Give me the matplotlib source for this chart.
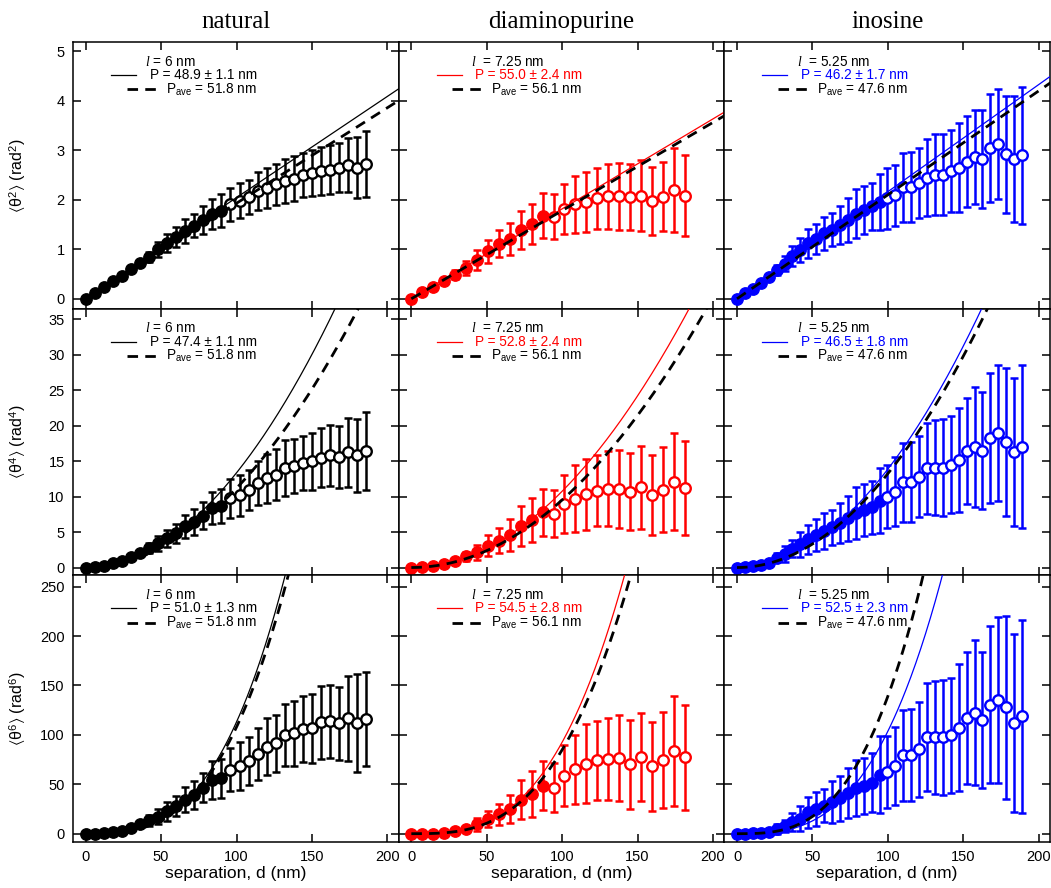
import numpy as np
import matplotlib
matplotlib.use("Agg")
import matplotlib.pyplot as plt

plt.rcParams['font.family'] = ['Liberation Sans', 'DejaVu Sans']
plt.rcParams['mathtext.fontset'] = 'custom'
plt.rcParams['mathtext.rm'] = 'Liberation Sans'
plt.rcParams['mathtext.it'] = 'Liberation Serif:italic'
plt.rcParams['mathtext.bf'] = 'Liberation Sans:bold'
plt.rcParams['mathtext.fallback'] = 'stixsans'

# ---------------- data ----------------
samples = ["natural", "diaminopurine", "inosine"]
colors = ["black", "red", "blue"]
seg_len = [6.0, 7.25, 5.25]            # l (nm), spacing of points
n_points = [32, 26, 37]
n_filled = [16, 13, 19]                # filled markers, rest open
P_ave = [51.8, 56.1, 47.6]

# fitted P (rows: <theta^2>, <theta^4>, <theta^6>)
P_fit = [[48.9, 55.0, 46.2],
         [47.4, 52.8, 46.5],
         [51.0, 54.5, 52.5]]
P_err = [[1.1, 2.4, 1.7],
         [1.1, 2.4, 1.8],
         [1.3, 2.8, 2.3]]

moment_factor = [1, 3, 15]
moment_power = [1, 2, 3]

# natural
nat_t2 = [0, 0.12, 0.24, 0.35, 0.47, 0.61, 0.73, 0.85, 1.0, 1.12, 1.25, 1.37, 1.48, 1.59, 1.72, 1.78,
          1.91, 1.98, 2.06, 2.18, 2.24, 2.31, 2.38, 2.43, 2.50, 2.54, 2.58, 2.61, 2.65, 2.70, 2.65, 2.72]
nat_t2_err = [0, 0.01, 0.02, 0.03, 0.04, 0.05, 0.06, 0.1, 0.15, 0.18, 0.2, 0.24, 0.24, 0.28, 0.3, 0.33,
              0.33, 0.35, 0.35, 0.38, 0.4, 0.42, 0.45, 0.45, 0.44, 0.46, 0.48, 0.49, 0.5, 0.54, 0.62, 0.67]
nat_t4 = [0, 0.1, 0.24, 0.57, 0.94, 1.55, 2.1, 2.7, 3.4, 4.1, 4.85, 5.8, 6.45, 7.3, 8.4, 8.7,
          9.75, 10.2, 10.9, 11.9, 12.6, 13.1, 14.0, 14.3, 14.8, 15.0, 15.5, 15.8, 15.6, 16.25, 15.8, 16.4]
nat_t4_err = [0, 0.02, 0.05, 0.1, 0.15, 0.25, 0.4, 0.7, 1.05, 1.2, 1.35, 1.65, 1.85, 1.9, 2.3, 2.4,
              2.7, 2.9, 2.85, 3.1, 3.45, 3.6, 3.95, 3.8, 3.8, 4.0, 4.2, 4.3, 4.4, 4.85, 5.2, 5.5]
nat_t6 = [0, 0.2, 0.6, 1.5, 2.7, 5.7, 9.4, 13.4, 17, 22.5, 28, 34.4, 39, 46.6, 54.4, 56,
          64.8, 68.5, 73.2, 80.6, 88, 91.4, 99.8, 101.8, 106, 106.5, 112.7, 113.7, 111.6, 116.7, 111.6, 116]
nat_t6_err = [0, 0.05, 0.1, 0.3, 0.6, 1.2, 2.5, 6, 7.5, 9.2, 10.4, 12.9, 14, 14.6, 19, 20,
              21.8, 23.9, 24.4, 26.5, 29, 29, 31.4, 33, 33.6, 35.3, 37, 36.6, 37.1, 43.2, 49.6, 47.9]

# diaminopurine
dap_t2 = [0, 0.13, 0.24, 0.36, 0.49, 0.63, 0.79, 0.96, 1.11, 1.21, 1.39, 1.51, 1.68,
          1.66, 1.81, 1.91, 1.95, 2.03, 2.07, 2.07, 2.05, 2.08, 1.98, 2.06, 2.19, 2.08]
dap_t2_err = [0, 0.02, 0.03, 0.04, 0.1, 0.14, 0.2, 0.23, 0.27, 0.33, 0.39, 0.4, 0.45,
              0.46, 0.5, 0.58, 0.61, 0.62, 0.65, 0.67, 0.67, 0.72, 0.69, 0.7, 0.85, 0.82]
dap_t4 = [0, 0.05, 0.24, 0.52, 0.94, 1.56, 2.17, 3.1, 3.8, 4.6, 5.9, 6.75, 7.8,
          7.6, 9.0, 9.7, 10.3, 10.85, 11.1, 11.1, 10.7, 11.3, 10.2, 11.0, 12.1, 11.2]
dap_t4_err = [0, 0.02, 0.05, 0.1, 0.2, 0.7, 1.05, 1.5, 1.8, 2.2, 2.8, 3.1, 3.3,
              3.3, 4.1, 4.7, 5.0, 5.0, 5.3, 5.5, 5.4, 5.8, 5.6, 6.0, 6.8, 6.6]
dap_t6 = [0, 0, 0.2, 1, 2.4, 5, 9.4, 14.8, 19.5, 25, 34.4, 40, 48.5,
          46.5, 58.6, 65, 70.8, 74.1, 75.8, 76.5, 70.1, 77.5, 68.1, 74.8, 83.6, 77.2]
dap_t6_err = [0, 0, 0.1, 0.3, 0.5, 2, 6.4, 8, 11, 14, 20, 23, 25,
              25, 31, 35.4, 40, 40.4, 41.4, 43.4, 44.7, 44.2, 44.7, 48.5, 55.7, 53.3]

# inosine
ino_t2 = [0, 0.11, 0.2, 0.32, 0.45, 0.58, 0.71, 0.86, 0.98, 1.12, 1.21, 1.32, 1.40, 1.49, 1.59, 1.72,
          1.79, 1.87, 1.95, 2.03, 2.09, 2.25, 2.26, 2.34, 2.45, 2.51, 2.51, 2.59, 2.65, 2.77, 2.86,
          2.82, 3.04, 3.12, 2.92, 2.82, 2.90]
ino_t2_err = [0, 0.01, 0.02, 0.04, 0.06, 0.1, 0.15, 0.2, 0.24, 0.3, 0.31, 0.34, 0.34, 0.39, 0.44, 0.49,
              0.49, 0.48, 0.57, 0.62, 0.61, 0.7, 0.71, 0.71, 0.77, 0.82, 0.82, 0.83, 0.9, 0.92, 0.95,
              0.99, 1.09, 1.11, 1.18, 1.27, 1.38]
ino_t4 = [0, 0.1, 0.24, 0.38, 0.7, 1.41, 1.88, 2.68, 3.25, 4.0, 4.57, 5.18, 5.65, 6.27, 6.93, 7.73,
          8.15, 8.47, 9.42, 9.99, 10.69, 12.0, 12.07, 12.8, 13.99, 14.1, 14.1, 14.5, 15.2, 16.4, 17.05,
          16.5, 18.3, 19.0, 17.7, 16.3, 17.05]
ino_t4_err = [0, 0.02, 0.05, 0.1, 0.2, 0.66, 1.1, 1.15, 1.7, 2.05, 2.3, 2.55, 2.47, 2.82, 3.18, 3.65,
              3.65, 3.77, 4.6, 4.4, 4.87, 5.58, 5.67, 5.7, 6.43, 6.73, 6.85, 6.87, 7.3, 7.46, 8.45,
              8.2, 9.18, 9.6, 10.4, 10.4, 11.5]
ino_t6 = [0, 0, 0.5, 1, 1.5, 4.5, 8, 11.5, 15, 21.5, 25, 28.4, 32.3, 35.7, 41.3, 46.4,
          48.4, 51.4, 59.9, 62.5, 68.2, 79.3, 79.3, 85.4, 97.5, 97.5, 97.5, 99.5, 107.3, 117, 122.3,
          115, 130.7, 135.5, 128, 111.9, 119]
ino_t6_err = [0, 0, 0.1, 0.3, 1, 5, 6, 9, 12.6, 15.6, 17.3, 17, 21, 22.5, 25.2, 28.7,
              28.6, 29.9, 38.5, 36.5, 39.5, 45.7, 46.5, 48.2, 54.6, 57.1, 58.3, 58.1, 64.2, 66.4, 73.4,
              68.9, 79.1, 84, 92.6, 90.2, 97.6]

values = [[nat_t2, dap_t2, ino_t2],
          [nat_t4, dap_t4, ino_t4],
          [nat_t6, dap_t6, ino_t6]]
errors = [[nat_t2_err, dap_t2_err, ino_t2_err],
          [nat_t4_err, dap_t4_err, ino_t4_err],
          [nat_t6_err, dap_t6_err, ino_t6_err]]

ylabels = [r'$\langle\mathrm{θ}^{2}\rangle$ (rad$^{2}$)',
           r'$\langle\mathrm{θ}^{4}\rangle$ (rad$^{4}$)',
           r'$\langle\mathrm{θ}^{6}\rangle$ (rad$^{6}$)']
ylims = [(-0.2, 5.19), (-1.1, 36.5), (-8.4, 261.5)]
yticks = [np.arange(0, 6, 1), np.arange(0, 40, 5), np.arange(0, 300, 50)]
xticks = [0, 50, 100, 150, 200]
xlim = (-8.4, 207.5)

# ---------------- figure ----------------
fig = plt.figure(figsize=(10.51, 8.88), dpi=100)
gs = fig.add_gridspec(3, 3, left=73/1051, right=1050/1051, top=1-42/888, bottom=1-842/888,
                      hspace=0, wspace=0)

dgrid = np.linspace(0, 215, 400)

for r in range(3):
    for c in range(3):
        ax = fig.add_subplot(gs[r, c])
        col = colors[c]
        x = np.arange(n_points[c]) * seg_len[c]
        y = np.array(values[r][c])
        e = np.array(errors[r][c])
        nf = n_filled[c]

        ax.errorbar(x, y, yerr=e, fmt='none', ecolor=col, elinewidth=1.8,
                    capsize=2.8, capthick=1.8, zorder=2)
        ax.plot(x[:nf], y[:nf], 'o', ms=8.2, mfc=col, mec=col, mew=1.0, zorder=3)
        ax.plot(x[nf:], y[nf:], 'o', ms=7.6, mfc='white', mec=col, mew=1.7, zorder=3)

        k = moment_factor[r]
        p = moment_power[r]
        ax.plot(dgrid, k * (dgrid / P_fit[r][c]) ** p, '-', color=col, lw=0.9, zorder=4)
        ax.plot(dgrid, k * (dgrid / P_ave[c]) ** p, color='black', lw=2.0,
                dashes=(3.8, 2.6), zorder=4)

        ax.set_xlim(*xlim)
        ax.set_ylim(*ylims[r])
        ax.set_xticks(xticks)
        ax.set_yticks(yticks[r])
        ax.tick_params(direction='in', top=True, right=True, length=6, width=1.1,
                       labelsize=10.5, pad=6)
        for s in ax.spines.values():
            s.set_linewidth(1.1)
        if c > 0:
            ax.tick_params(labelleft=False)
        else:
            ax.set_ylabel(ylabels[r], fontsize=11.5)
            ax.yaxis.set_label_coords(-0.138, 0.5)
        if r < 2:
            ax.tick_params(labelbottom=False)
        else:
            ax.set_xlabel('separation, d (nm)', fontsize=12.5, labelpad=1)
        if r == 0:
            ax.set_title(samples[c], fontsize=18, family='Liberation Serif', pad=10)

        # legend (drawn as text + sample lines)
        ls = seg_len[c]
        ltxt = '$l$ = %g nm' % ls if c == 0 else '$l$  = %g nm' % ls
        ax.text(0.222, 0.926, ltxt, transform=ax.transAxes, fontsize=9.8,
                va='center', ha='left', color='black')
        ax.plot([0.117, 0.193], [0.876, 0.876], '-', color=col, lw=0.9,
                transform=ax.transAxes, zorder=5)
        ax.text(0.235, 0.876, 'P = %.1f ± %.1f nm' % (P_fit[r][c], P_err[r][c]),
                transform=ax.transAxes, fontsize=9.8, va='center', ha='left', color=col)
        ax.plot([0.165, 0.258], [0.822, 0.822], color='black', lw=2.0, dashes=(3.8, 2.6),
                transform=ax.transAxes, zorder=5)
        ax.text(0.285, 0.822, 'P$_{\\mathrm{ave}}$ = %.1f nm' % P_ave[c],
                transform=ax.transAxes, fontsize=9.8, va='center', ha='left', color='black')

fig.savefig('out.png', dpi=100)
